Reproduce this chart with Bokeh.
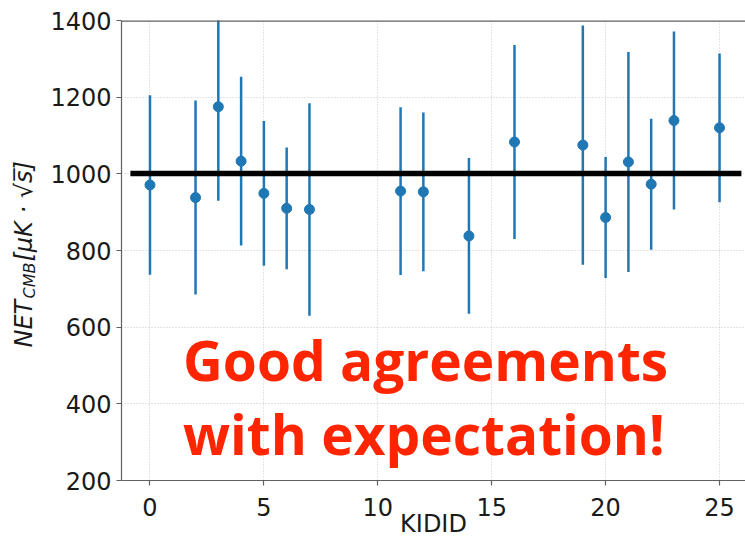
from bokeh.plotting import figure
from bokeh.models import ColumnDataSource, FixedTicker, Label, Range1d, Span
from bokeh.embed import file_html
from bokeh.resources import INLINE
import math

# ---- data ----
kid_id = [0, 2, 3, 4, 5, 6, 7, 11, 12, 14, 16, 19, 20, 21, 22, 23, 25]
net_cmb = [971, 938, 1175, 1033, 949, 910, 907, 955, 953, 838, 1083, 1075, 886, 1031, 973, 1139, 1120]
net_err = [234, 253, 245, 220, 189, 159, 277, 219, 207, 203, 253, 312, 158, 287, 171, 232, 194]
expected_x = [-0.86, 25.96]
expected_net = 1001
x_ticks = [0, 5, 10, 15, 20, 25]
y_ticks = [200, 400, 600, 800, 1000, 1200, 1400]

lower = [v - e for v, e in zip(net_cmb, net_err)]
upper = [v + e for v, e in zip(net_cmb, net_err)]
src = ColumnDataSource(dict(x=kid_id, y=net_cmb, lo=lower, hi=upper))

Y0, Y1 = 200, 1400
p = figure(width=745, height=540, output_backend="svg", toolbar_location=None,
           x_range=Range1d(-1.25, 26.14), y_range=Range1d(Y0, Y1),
           min_border_left=120, min_border_right=0, min_border_top=20, min_border_bottom=60)
p.outline_line_color = None
p.background_fill_color = "white"
p.border_fill_color = "white"

# axes
for ax in (p.xaxis[0], p.yaxis[0]):
    ax.axis_line_color = "#606060"
    ax.axis_line_width = 1.2
    ax.major_tick_line_color = "#606060"
    ax.major_tick_line_width = 1.2
    ax.major_tick_out = 5
    ax.major_tick_in = 0
    ax.minor_tick_line_color = None
    ax.major_label_text_font = "DejaVu Sans"
    ax.major_label_text_font_size = "24px"
    ax.major_label_text_color = "#1a1a1a"
p.xaxis.ticker = FixedTicker(ticks=x_ticks)
p.yaxis.ticker = FixedTicker(ticks=y_ticks)
p.yaxis.major_label_standoff = 5
p.yaxis.axis_label = None
p.xaxis.major_label_standoff = 12
p.xaxis.axis_label = "KIDID"
p.xaxis.axis_label_text_font = "DejaVu Sans"
p.xaxis.axis_label_text_font_size = "24px"
p.xaxis.axis_label_text_font_style = "normal"
p.xaxis.axis_label_text_color = "#1a1a1a"
p.xaxis.axis_label_standoff = -9

# top spine
p.add_layout(Span(location=Y1, dimension="width", line_color="#606060", line_width=2.4))

# grid
for g in (p.xgrid[0], p.ygrid[0]):
    g.grid_line_color = "#c8c8c8"
    g.grid_line_dash = "1 2"
    g.grid_line_width = 1
p.xgrid.ticker = FixedTicker(ticks=x_ticks)
p.ygrid.ticker = FixedTicker(ticks=y_ticks)

# error bars and points
p.segment(x0="x", y0="lo", x1="x", y1="hi", source=src, line_color="#1f77b4", line_width=2.5)
p.scatter(x="x", y="y", source=src, size=10, fill_color="#1f77b4", line_color="#1f77b4")

# expectation line
p.line(x=expected_x, y=[expected_net, expected_net], line_color="black", line_width=5.5)

# helper: pixel row (from top of canvas) -> data y
frame_top, frame_h = 20, 460
def py(pix):
    return Y1 - (pix - frame_top) * (Y1 - Y0) / frame_h

# red annotation text
for txt, base in (("Good agreements", 359), ("with expectation!", 433)):
    p.add_layout(Label(x=1.45, y=py(base), text=txt, text_font="Open Sans", text_font_style="bold",
                       text_font_size="55px", text_color="#ff2500", text_baseline="alphabetic",
                       text_align="left"))

# y axis label (rotated), both parts in the left side panel
ang = math.pi / 2
gap = "\u00a0" * 5
p.add_layout(Label(x=-1.25, y=py(347), x_offset=-98, text="NET" + gap + "[μK · √s\u0305]", angle=ang,
                   text_font="DejaVu Sans", text_font_style="italic", text_font_size="24px",
                   text_color="#1a1a1a", text_align="left", text_baseline="alphabetic"), "left")
p.add_layout(Label(x=-1.25, y=py(298), x_offset=-92, text="CMB", angle=ang,
                   text_font="DejaVu Sans", text_font_style="italic", text_font_size="16px",
                   text_color="#1a1a1a", text_align="left", text_baseline="alphabetic"), "left")

open("out.html", "w").write(file_html(p, INLINE))
